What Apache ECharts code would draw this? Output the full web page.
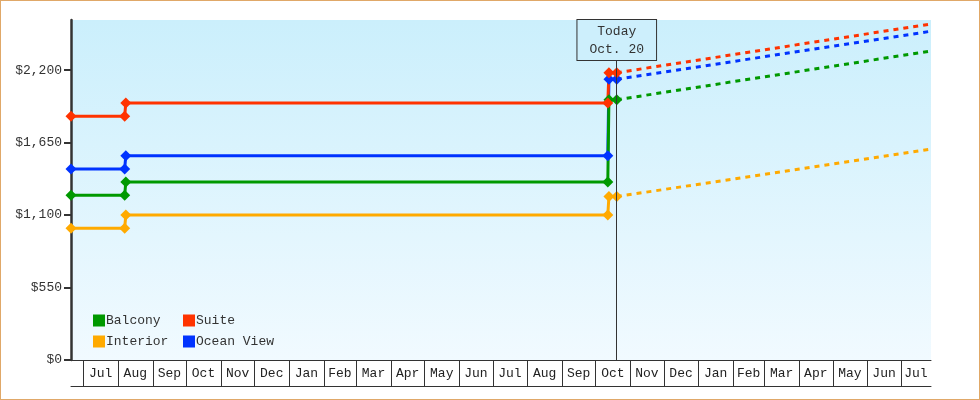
<!DOCTYPE html>
<html>
<head>
<meta charset="utf-8">
<script src="https://cdn.jsdelivr.net/npm/echarts@6/dist/echarts.min.js"></script>
<style>
html,body{margin:0;padding:0;background:#fff;}
#wrap{position:relative;width:980px;height:400px;}
#c{position:absolute;left:0;top:0;width:980px;height:400px;}
#frame{position:absolute;left:0;top:0;width:980px;height:400px;box-sizing:border-box;border:1px solid #e0a868;pointer-events:none;}
</style>
</head>
<body>
<div id="wrap"><div id="c"></div><div id="frame"></div></div>
<script>
// ---- data ----
var seriesNames = ['Balcony', 'Suite', 'Interior', 'Ocean View'];
var seriesColors = ['#009900', '#ff3300', '#ffaa00', '#0033ff'];
var historyDates = ['2023-06-20', '2023-08-07', '2023-08-08', '2024-10-12', '2024-10-13', '2024-10-20'];
var projectionDates = ['2024-10-20', '2025-07-28'];
var balconyHistory = [1250, 1250, 1350, 1350, 1975, 1975];
var suiteHistory = [1850, 1850, 1950, 1950, 2180, 2180];
var interiorHistory = [1000, 1000, 1100, 1100, 1240, 1240];
var oceanHistory = [1450, 1450, 1550, 1550, 2130, 2130];
var balconyProjection = [1975, 2345];
var suiteProjection = [2180, 2550];
var interiorProjection = [1240, 1600];
var oceanProjection = [2130, 2495];
var yTicks = [0, 550, 1100, 1650, 2200];
var monthLabels = ['Jul','Aug','Sep','Oct','Nov','Dec','Jan','Feb','Mar','Apr','May','Jun',
                   'Jul','Aug','Sep','Oct','Nov','Dec','Jan','Feb','Mar','Apr','May','Jun','Jul'];
var firstMonth = '2023-07-01';
var axisStart = '2023-06-20';
var axisEnd = '2025-07-28';
var todayDate = '2024-10-20';
var todayText = 'Today\nOct. 20';

// ---- build ----
var FONT = 'Liberation Mono';
function pairs(d, v) { return d.map(function (x, i) { return [x, v[i]]; }); }
var histories = [balconyHistory, suiteHistory, interiorHistory, oceanHistory];
var projections = [balconyProjection, suiteProjection, interiorProjection, oceanProjection];

var fm = new Date(firstMonth + 'T00:00:00Z');
var monthCells = monthLabels.map(function (lab, i) {
  var s = Date.UTC(fm.getUTCFullYear(), fm.getUTCMonth() + i, 1);
  var e = Date.UTC(fm.getUTCFullYear(), fm.getUTCMonth() + i + 1, 1);
  return [s, e, lab];
});
function toMs(s) { return new Date(s + 'T00:00:00Z').getTime(); }
var minMs = toMs(axisStart), maxMs = toMs(axisEnd);

var series = [];
var drawOrder = [2, 3, 0, 1];
drawOrder.forEach(function (i) {
  series.push({
    name: seriesNames[i], type: 'line', xAxisIndex: 0, yAxisIndex: 0,
    data: pairs(historyDates.map(toMs), histories[i]),
    symbol: 'diamond', symbolSize: 11, showSymbol: true,
    lineStyle: { width: 3, color: seriesColors[i] },
    itemStyle: { color: seriesColors[i] },
    color: seriesColors[i], animation: false, z: 3
  });
  series.push({
    name: seriesNames[i], type: 'line', xAxisIndex: 0, yAxisIndex: 0,
    data: pairs(projectionDates.map(toMs), projections[i]),
    showSymbol: false, symbol: 'none',
    lineStyle: { width: 3, color: seriesColors[i], type: [5, 5] },
    itemStyle: { color: seriesColors[i] },
    color: seriesColors[i], animation: false, z: 2
  });
});
series.push({
  type: 'line', xAxisIndex: 0, yAxisIndex: 0, data: [], animation: false, z: 1,
  markLine: {
    silent: true, symbol: 'none', animation: false,
    lineStyle: { color: '#333', width: 1, type: 'solid' },
    label: {
      show: true, position: 'end', distance: 0, formatter: todayText,
      fontFamily: FONT, fontSize: 13, color: '#333', lineHeight: 18,
      backgroundColor: '#cdeffc', borderColor: '#333', borderWidth: 1,
      padding: [3, 12, 1, 12], align: 'center'
    },
    data: [[{ coord: [toMs(todayDate), 0] }, { coord: [toMs(todayDate), 2276] }]]
  }
});
series.push({
  type: 'custom', xAxisIndex: 1, yAxisIndex: 1, animation: false, silent: true,
  data: monthCells,
  clip: false,
  renderItem: function (params, api) {
    var s = api.value(0), e = api.value(1);
    var cs = params.coordSys;
    var x0 = api.coord([s, 0])[0], x1 = api.coord([e, 0])[0];
    var top = cs.y, bot = cs.y + cs.height;
    var L = cs.x, R = cs.x + cs.width;
    var cx0 = Math.max(x0, L), cx1 = Math.min(x1, R);
    if (cx1 <= cx0) return;
    var children = [];
    if (x0 >= L && x0 <= R) {
      children.push({ type: 'line', shape: { x1: Math.round(x0) + 0.5, y1: top, x2: Math.round(x0) + 0.5, y2: bot },
        style: { stroke: '#333', lineWidth: 1 } });
    }
    children.push({ type: 'text', style: { text: monthLabels[params.dataIndex], x: (cx0 + cx1) / 2, y: (top + bot) / 2 + 1,
      align: 'center', verticalAlign: 'middle', fill: '#222', font: '13px "' + FONT + '"' } });
    return { type: 'group', children: children };
  }
});

var chart = echarts.init(document.getElementById('c'), null, { renderer: 'canvas' });
chart.setOption({
  animation: false,
  textStyle: { fontFamily: FONT },
  grid: [
    { left: 71, right: 49, top: 20, bottom: 40, show: true, borderWidth: 0,
      backgroundColor: new echarts.graphic.LinearGradient(0, 0, 0, 1, [
        { offset: 0, color: '#cbeffc' }, { offset: 1, color: '#f1faff' }]) },
    { left: 71, right: 49, top: 360, height: 26, show: false }
  ],
  legend: [
    { data: [seriesNames[0], seriesNames[2]], orient: 'vertical', left: 93, top: 314, padding: 0,
      icon: 'rect', itemWidth: 12, itemHeight: 12, itemGap: 8,
      textStyle: { fontFamily: FONT, fontSize: 13, color: '#333', padding: [2, 0, 0, -4] } },
    { data: [seriesNames[1], seriesNames[3]], orient: 'vertical', left: 183, top: 314, padding: 0,
      icon: 'rect', itemWidth: 12, itemHeight: 12, itemGap: 8,
      textStyle: { fontFamily: FONT, fontSize: 13, color: '#333', padding: [2, 0, 0, -4] } }
  ],
  xAxis: [
    { type: 'time', gridIndex: 0, min: minMs, max: maxMs,
      axisLine: { show: true, onZero: false, lineStyle: { color: '#333', width: 1 } },
      axisTick: { show: false }, axisLabel: { show: false }, splitLine: { show: false } },
    { type: 'time', gridIndex: 1, min: minMs, max: maxMs, position: 'bottom',
      axisLine: { show: true, lineStyle: { color: '#333', width: 1 } },
      axisTick: { show: false }, axisLabel: { show: false }, splitLine: { show: false } }
  ],
  yAxis: [
    { type: 'value', gridIndex: 0, min: 0, max: 2580, interval: 550,
      axisLine: { show: true, lineStyle: { color: '#333', width: 2.5 } },
      axisTick: { show: true, length: 7, lineStyle: { color: '#333', width: 2 },
        customValues: yTicks },
      axisLabel: { fontFamily: FONT, fontSize: 13, color: '#333', margin: 9,
        customValues: yTicks, padding: [3, 0, 0, 0],
        formatter: function (v) { return '$' + v.toLocaleString('en-US'); } },
      splitLine: { show: false } },
    { type: 'value', gridIndex: 1, min: 0, max: 1, show: false }
  ],
  series: series
});
</script>
</body>
</html>
